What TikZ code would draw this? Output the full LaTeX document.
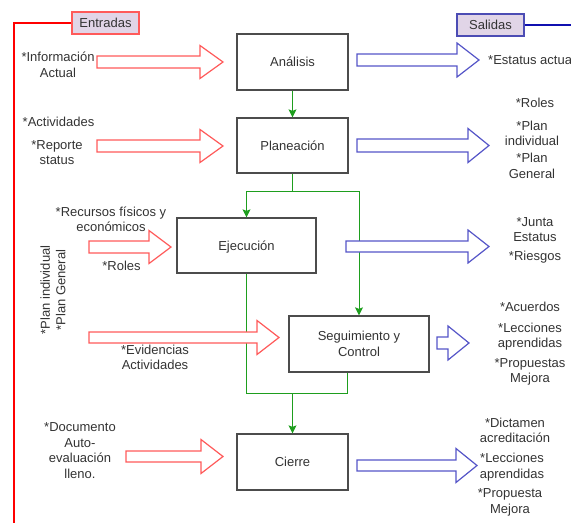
\documentclass[tikz,border=0pt]{standalone}
\usepackage{fontspec}
\setmainfont{Liberation Sans}
\usetikzlibrary{arrows.meta}
\definecolor{inred}{HTML}{FF5A5A}
\definecolor{outblue}{HTML}{5555C8}
\definecolor{lineblue}{HTML}{1010B0}
\definecolor{flowgreen}{HTML}{1E9E1E}
\definecolor{tagfill}{HTML}{E1D5E7}
\newcommand{\bigarrow}[7]{\draw[#1] (#2,#5-#6) -- (#3,#5-#6) -- (#3,#5-#7) -- (#4,#5) -- (#3,#5+#7) -- (#3,#5+#6) -- (#2,#5+#6) -- cycle;}
\begin{document}
\begin{tikzpicture}[x=1pt,y=-1pt,
    every node/.style={font=\fontsize{13}{15.5}\selectfont, text=black!80, align=center},
    box/.style={draw=black!70, line width=1.3pt, fill=white, minimum width=111pt, minimum height=56pt, text height=11pt, text depth=2pt},
    tag/.style={fill=tagfill, line width=1.3pt, minimum width=67pt, minimum height=22pt, inner sep=0pt},
    inarrow/.style={draw=inred, line width=1.2pt, fill=white},
    outarrow/.style={draw=outblue, line width=1.2pt, fill=white},
    flow/.style={draw=flowgreen, line width=1pt},
    tip/.style={-{Stealth[length=8pt,width=8pt,inset=1.5pt]}}]
    \useasboundingbox (0,0) rectangle (571,523);

    \node[box] (analisis) at (292.5,62) {Análisis};
    \node[box, minimum height=55pt] (planeacion) at (292.5,145.5) {Planeación};
    \node[box, minimum width=139pt, minimum height=55pt] (ejecucion) at (246.5,245.5) {Ejecución};
    \node[box, minimum width=140pt, text height=, text depth=] (seguimiento) at (359,344) {Seguimiento y\\Control};
    \node[box] (cierre) at (292.5,462) {Cierre};

    \node[tag, draw=inred] (entradas) at (105.5,23) {Entradas};
    \node[tag, draw=outblue!90!black] (salidas) at (490.5,25) {Salidas};
    \coordinate (entend) at (14,523);
    \coordinate (salend) at (571,25);
    \draw[red, line width=2pt] (entradas.west) -| (entend);
    \draw[lineblue, line width=2pt] (salidas.east) -- (salend);

    \coordinate (split) at (292.5,191);
    \coordinate (merge) at (292.5,393);
    \draw[flow, tip] (analisis) -- (planeacion);
    \draw[flow] (planeacion) -- (split);
    \draw[flow, tip] (split) -| (ejecucion.north);
    \draw[flow, tip] (split) -| (seguimiento.north);
    \draw[flow] (ejecucion.south) |- (merge);
    \draw[flow] ([xshift=-12pt]seguimiento.south) |- (merge);
    \draw[flow, tip] (merge) -- (cierre);

    \bigarrow{inarrow}{97}{200}{223}{62}{6}{16.5}
    \bigarrow{inarrow}{97}{200}{223}{146}{6}{16.5}
    \bigarrow{inarrow}{89}{149}{171}{247}{6}{16.5}
    \bigarrow{inarrow}{89}{257}{279}{337.5}{5.5}{17}
    \bigarrow{inarrow}{126}{201}{223}{456.5}{5.5}{17}

    \bigarrow{outarrow}{357}{457}{479}{60}{6}{17}
    \bigarrow{outarrow}{357}{468}{489}{145.5}{6.5}{17}
    \bigarrow{outarrow}{346}{468}{489}{246.5}{5.5}{16.5}
    \bigarrow{outarrow}{437}{448}{469}{343}{6}{17}
    \bigarrow{outarrow}{357}{456}{477}{465.5}{5.5}{17}

    \node (info) at (58,65) {*Información\\Actual};
    \node (actividades) at (58.5,122) {*Actividades};
    \node (reporte) at (57,152.5) {*Reporte\\status};
    \node (recursos) at (111,219.5) {*Recursos físicos y\\económicos};
    \node (rolesin) at (121.5,266) {*Roles};
    \node[rotate=90] (planes) at (53,290) {*Plan individual\\*Plan General};
    \node (evidencias) at (155,357.5) {*Evidencias\\Actividades};
    \node (documento) at (80,450.5) {*Documento\\Auto-\\evaluación\\lleno.};

    \node[anchor=west, inner sep=0pt] (estatus) at (488,60) {*Estatus actual};
    \node (rolesout) at (535,103) {*Roles};
    \node (planind) at (532,133.5) {*Plan\\individual};
    \node (plangen) at (532,166) {*Plan\\General};
    \node (junta) at (535,229.5) {*Junta\\Estatus};
    \node (riesgos) at (535,257) {*Riesgos};
    \node (acuerdos) at (530,307) {*Acuerdos};
    \node (leccionesa) at (530,336.5) {*Lecciones\\aprendidas};
    \node (propuestas) at (530,372) {*Propuestas\\Mejora};
    \node (dictamen) at (515,430.5) {*Dictamen\\acreditación};
    \node (leccionesb) at (512,467) {*Lecciones\\aprendidas};
    \node (propuesta) at (510,502.5) {*Propuesta\\Mejora};
\end{tikzpicture}
\end{document}
